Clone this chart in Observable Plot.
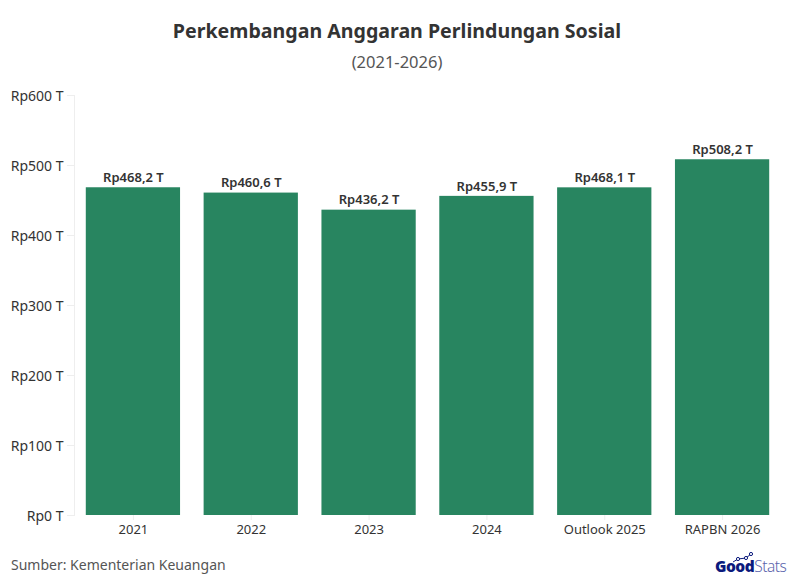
<!DOCTYPE html>
<html>
<head>
<meta charset="utf-8">
<script src="https://cdn.jsdelivr.net/npm/d3@7"></script>
<script src="https://cdn.jsdelivr.net/npm/@observablehq/plot@0.6"></script>
<style>
  html, body { margin: 0; background: #fff; }
  body { width: 794px; height: 586px; overflow: hidden; position: relative; font-family: "Noto Sans", sans-serif; }
  #titulo { height: 85px; text-align: center; color: #333; }
  #titulo h1 { margin: 0; padding-top: 16px; font-size: 19.6px; line-height: 30px; font-weight: 700; }
  #titulo p { margin: 0; padding-top: 4px; font-size: 16.5px; line-height: 24px; color: #555; }
  #chart svg { display: block; }
  #fuente { position: absolute; left: 11px; top: 555px; font-size: 14px; line-height: 20px; color: #555; }
  #logo { position: absolute; left: 715px; top: 556px; font-size: 15.5px; line-height: 20px; color: #0b1a7d; letter-spacing: -0.5px; }
  #logo b { font-weight: 900; }
  #logo span { font-weight: 300; color: #5a64ad; }
  #puntos { position: absolute; left: 730px; top: 551px; }
</style>
</head>
<body>
<div id="titulo">
  <h1>Perkembangan Anggaran Perlindungan Sosial</h1>
  <p>(2021-2026)</p>
</div>
<div id="chart"></div>
<div id="fuente">Sumber: Kementerian Keuangan</div>
<div id="logo"><b>Good</b><span>Stats</span></div>
<svg id="puntos" width="24" height="14" fill="#fff" stroke="#0b1a7d" stroke-width="1">
  <polyline points="3,11 8,8 16,7 21,3" fill="none"></polyline>
  <circle cx="8" cy="8" r="1.6"></circle>
  <circle cx="16" cy="7" r="1.6"></circle>
  <circle cx="21" cy="3" r="1.6"></circle>
</svg>
<script>
const periodos = ['2021', '2022', '2023', '2024', 'Outlook 2025', 'RAPBN 2026'];
const anggaran = [468.2, 460.6, 436.2, 455.9, 468.1, 508.2];
const ticksY = [0, 100, 200, 300, 400, 500, 600];

const datos = periodos.map((periodo, i) => ({ periodo, valor: anggaran[i] }));
const coma = (v) => `Rp${v.toFixed(1).replace('.', ',')} T`;

const chart = Plot.plot({
  width: 794,
  height: 460,
  marginTop: 10,
  marginBottom: 30,
  marginLeft: 74,
  marginRight: 13,
  style: { fontFamily: '"Noto Sans", sans-serif', fontSize: '13px', color: '#333' },
  x: { domain: periodos, paddingInner: 0.2, paddingOuter: 0.1, round: false, label: null },
  y: { domain: [0, 600], label: null },
  marks: [
    Plot.frame({ anchor: 'left', stroke: '#eeeeee' }),
    // marcas y textos separados: el texto va 1px mas abajo que la marca
    Plot.axisY({ ticks: ticksY, tickSize: 7, text: null, stroke: '#eeeeee', label: null }),
    Plot.axisY({
      ticks: ticksY,
      tickFormat: (d) => `Rp${d} T`,
      tickSize: 0,
      tickPadding: 11,
      dy: 1,
      fontSize: 14,
      color: '#333',
      label: null
    }),
    Plot.axisX({ tickSize: 5, tickPadding: 4, stroke: '#eeeeee', color: '#333', label: null }),
    Plot.barY(datos, { x: 'periodo', y: 'valor', fill: '#288560' }),
    Plot.text(datos, {
      x: 'periodo',
      y: 'valor',
      text: (d) => coma(d.valor),
      dy: -10,
      fontWeight: 600,
      fill: '#333'
    })
  ]
});

d3.select('#chart').append(() => chart);
</script>
</body>
</html>
